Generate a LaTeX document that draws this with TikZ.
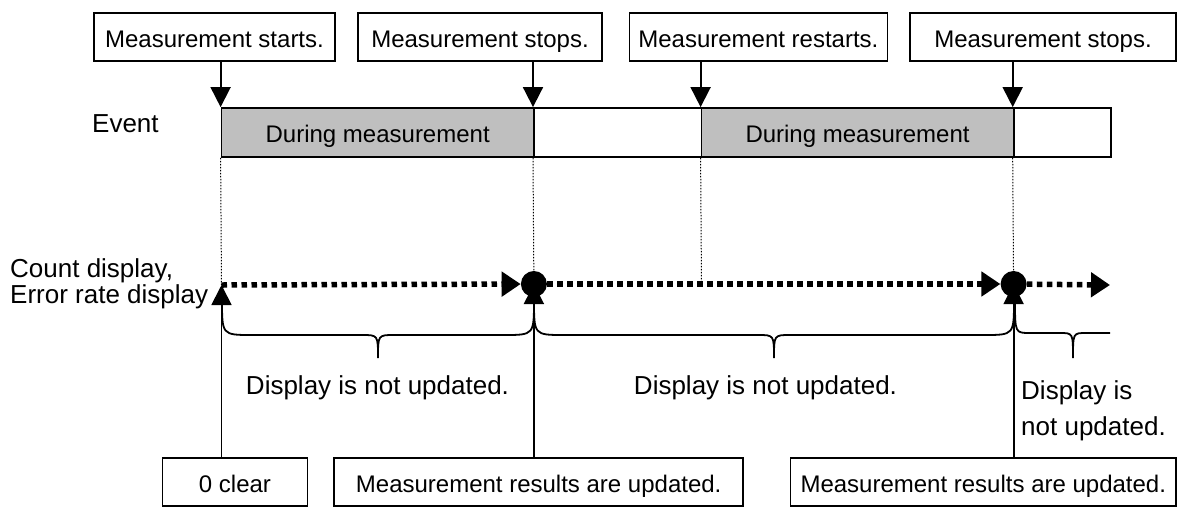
\documentclass[tikz,border=0pt]{standalone}
\usepackage{fontspec}
\setmainfont{Liberation Sans}
\usetikzlibrary{arrows.meta}

\tikzset{
  labelbox/.style={draw,line width=1.8pt,minimum height=48pt,inner sep=0pt,text height=24pt,text depth=4pt,font=\fontsize{24}{28}\selectfont},
  evseg/.style={draw,line width=1.8pt,minimum height=49pt,inner sep=0pt,text height=24pt,text depth=4pt,font=\fontsize{24}{28}\selectfont},
  runseg/.style={evseg,fill=black!25},
  sidelabel/.style={inner sep=0pt,font=\fontsize{26}{30}\selectfont},
  pushline/.style={line width=1.8pt,-{Triangle[length=20pt,width=20pt]}},
  guide/.style={line width=1pt,dash pattern=on 1.5pt off 1.5pt},
  countline/.style={line width=5.5pt,dash pattern=on 5.5pt off 4.5pt,-{Triangle[length=19pt,width=24pt]}},
  bracecurve/.style={line width=1.8pt},
  hit/.style={circle,fill,inner sep=0pt,minimum size=26pt},
}

\begin{document}
\begin{tikzpicture}[x=1pt,y=-1pt]
\path[use as bounding box] (0,0) rectangle (1179,507);
% events
\node[labelbox,minimum width=241pt] (start) at (214.5,37) {Measurement starts.};
\node[labelbox,minimum width=244pt] (stop1) at (480,37) {Measurement stops.};
\node[labelbox,minimum width=258pt] (restart) at (758.4,37) {Measurement restarts.};
\node[labelbox,minimum width=266pt] (stop2) at (1043,37) {Measurement stops.};
% event bar
\node[sidelabel,anchor=base west] (event) at (92,132) {Event};
\node[runseg,minimum width=312.4pt] (run1) at (377.7,132.5) {During measurement};
\node[evseg,minimum width=167.6pt] (idle1) at (617.7,132.5) {};
\node[runseg,minimum width=312.1pt] (run2) at (857.55,132.5) {During measurement};
\node[evseg,minimum width=97.1pt] (idle2) at (1062.15,132.5) {};
\draw[pushline] (start.south -| run1.north west) -- (run1.north west);
\draw[pushline] (stop1.south -| idle1.north west) -- (idle1.north west);
\draw[pushline] (restart.south -| run2.north west) -- (run2.north west);
\draw[pushline] (stop2.south -| idle2.north west) -- (idle2.north west);
% count line
\node[sidelabel,anchor=base west,align=left,font=\fontsize{26}{24}\selectfont] (count) at (10,303) {Count display,\\Error rate display};
\coordinate (p0) at (221.5,285);
\coordinate (p3) at (701.5,285);
\coordinate (pend) at (1110,285);
\node[hit] (c1) at (533.9,284) {};
\node[hit] (c2) at (1013.6,284) {};
\draw[guide] (run1.south west) -- (p0);
\draw[guide] (idle1.south west) -- (c1);
\draw[guide] (run2.south west) -- (p3);
\draw[guide] (idle2.south west) -- (c2);
\draw[countline] (p0) -- (c1);
\draw[countline] (c1) -- (c2);
\draw[countline] (c2) -- (pend);
% braces
\draw[bracecurve] (222,300) .. controls (222,335) .. (252,335) -- (362,335) .. controls (378,335) .. (378,358) .. controls (378,335) .. (394,335) -- (504,335) .. controls (534,335) .. (534,300);
\draw[bracecurve] (534,300) .. controls (534,335) .. (564,335) -- (758,335) .. controls (774,335) .. (774,358) .. controls (774,335) .. (790,335) -- (984,335) .. controls (1014,335) .. (1014,300);
\draw[bracecurve] (1015,300) .. controls (1015,333) .. (1030,333) -- (1060,333) .. controls (1073,333) .. (1073,358) .. controls (1073,333) .. (1086,333) -- (1110,333);
\node[sidelabel,anchor=base] (quiet1) at (377.5,394) {Display is not updated.};
\node[sidelabel,anchor=base] (quiet2) at (765.5,394) {Display is not updated.};
\node[sidelabel,anchor=base west,align=left,font=\fontsize{26}{36}\selectfont] (quiet3) at (1021,435) {Display is\\not updated.};
% updates
\node[labelbox,minimum width=145pt] (clear) at (235,482) {0 clear};
\node[labelbox,minimum width=409pt] (update1) at (538.7,482) {Measurement results are updated.};
\node[labelbox,minimum width=385.5pt] (update2) at (983.3,482) {Measurement results are updated.};
\draw[pushline] (clear.north -| p0) -- (p0);
\draw[pushline] (update1.north -| c1) -- (c1.center);
\draw[pushline] (update2.north -| c2) -- (c2.center);
\end{tikzpicture}
\end{document}
